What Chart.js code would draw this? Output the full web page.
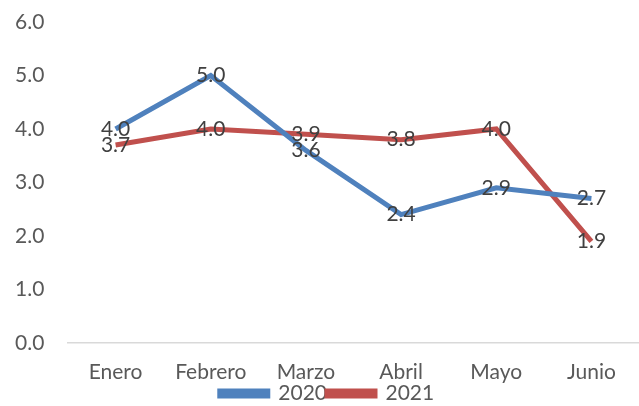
<!DOCTYPE html>
<html>
<head>
<meta charset="utf-8">
<script src="https://cdn.jsdelivr.net/npm/chart.js@4/dist/chart.umd.min.js"></script>
<style>
  html, body { margin: 0; padding: 0; background: #ffffff; }
  #wrap { width: 639px; height: 406px; }
</style>
</head>
<body>
<div id="wrap"><canvas id="chart" width="639" height="406"></canvas></div>
<script>
const months = ['Enero', 'Febrero', 'Marzo', 'Abril', 'Mayo', 'Junio'];
const values2020 = [4.0, 5.0, 3.6, 2.4, 2.9, 2.7];
const values2021 = [3.7, 4.0, 3.9, 3.8, 4.0, 1.9];

const fontFamily = 'Lato, "Noto Sans", sans-serif';

// etiquetas centradas sobre cada punto
const centerLabels = {
  id: 'centerLabels',
  afterDatasetsDraw(chart) {
    const ctx = chart.ctx;
    ctx.save();
    ctx.font = '21px ' + fontFamily;
    ctx.fillStyle = '#404040';
    ctx.textAlign = 'center';
    ctx.textBaseline = 'middle';
    chart.data.datasets.forEach((ds, i) => {
      chart.getDatasetMeta(i).data.forEach((pt, j) => {
        ctx.fillText(ds.data[j].toFixed(1), pt.x, pt.y);
      });
    });
    ctx.restore();
  }
};

const data = {
  labels: months,
  datasets: [
    {
      label: '2020',
      data: values2020,
      borderColor: '#4f81bd',
      backgroundColor: '#4f81bd',
      borderWidth: 5,
      pointRadius: 0,
      fill: false,
      tension: 0
    }, {
      label: '2021',
      data: values2021,
      borderColor: '#c0504d',
      backgroundColor: '#c0504d',
      borderWidth: 5,
      pointRadius: 0,
      fill: false,
      tension: 0
    }
  ]
};

const config = {
  type: 'line',
  data: data,
  options: {
    responsive: false,
    animation: false,
    layout: {
      padding: { top: 22, left: 15, right: 0, bottom: 0 }
    },
    plugins: {
      legend: {
        position: 'bottom',
        maxHeight: 23,
        labels: {
          boxWidth: 48,
          boxHeight: 5,
          padding: 0,
          color: '#595959',
          font: { family: fontFamily, size: 21 }
        }
      },
      tooltip: { enabled: false }
    },
    scales: {
      x: {
        offset: true,
        grid: { display: false, drawTicks: false },
        border: { display: true, color: '#d9d9d9', width: 1.5 },
        afterFit: (s) => { s.height = 40; },
        ticks: {
          color: '#595959',
          padding: 17,
          maxRotation: 0,
          font: { family: fontFamily, size: 21 }
        }
      },
      y: {
        min: 0,
        max: 6,
        grid: { display: false, drawTicks: false },
        border: { display: false },
        afterFit: (s) => { s.width = 53; },
        ticks: {
          stepSize: 1,
          color: '#595959',
          padding: 0,
          crossAlign: 'far',
          font: { family: fontFamily, size: 21 },
          callback: (v) => v.toFixed(1)
        }
      }
    }
  },
  plugins: [centerLabels]
};

var myChart = new Chart(document.getElementById('chart'), config);
</script>
</body>
</html>
